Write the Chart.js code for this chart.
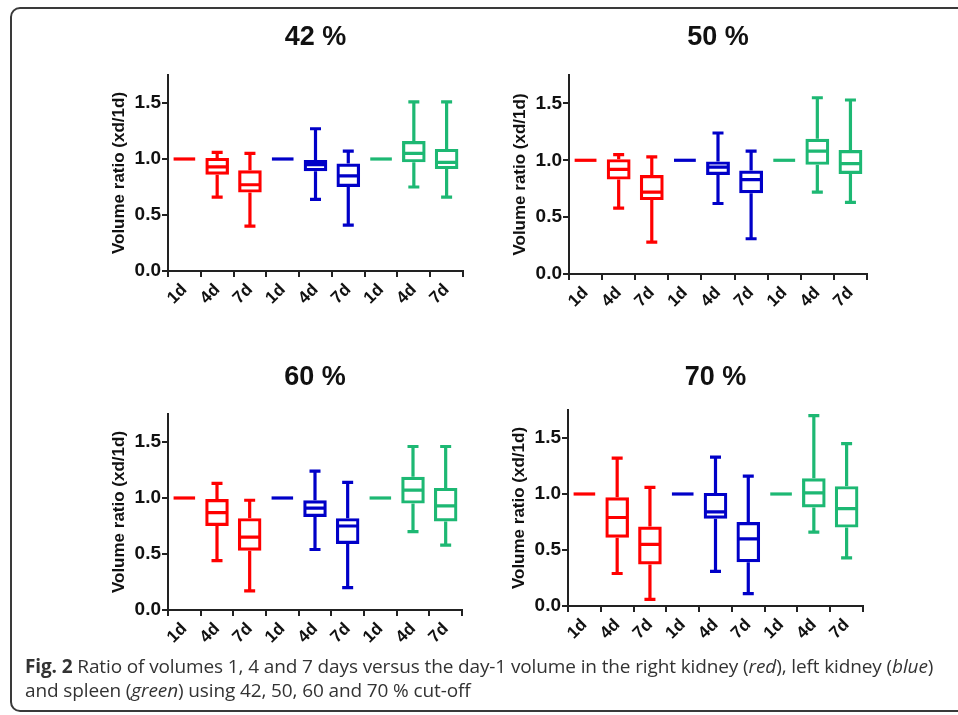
<!DOCTYPE html>
<html>
<head>
<meta charset="utf-8">
<script src="https://cdn.jsdelivr.net/npm/chart.js@4/dist/chart.umd.min.js"></script>
<style>
body{margin:0;background:#fff;width:958px;height:715px;overflow:hidden;position:relative}
.frame{position:absolute;left:10px;top:7px;width:1000px;height:705px;border:2px solid #3a3a3a;border-radius:10px;box-sizing:border-box}
canvas{position:absolute}
.caption{position:absolute;left:25px;top:654px;font-family:'Open Sans',sans-serif;font-size:19px;letter-spacing:-0.12px;color:#333;line-height:24px;white-space:nowrap}
</style>
</head>
<body>
<div class="frame"></div>
<canvas id="c42"></canvas>
<canvas id="c50"></canvas>
<canvas id="c60"></canvas>
<canvas id="c70"></canvas>
<div class="caption"><b>Fig. 2</b> Ratio of volumes 1, 4 and 7 days versus the day-1 volume in the right kidney (<i>red</i>), left kidney (<i>blue</i>)<br>and spleen (<i>green</i>) using 42, 50, 60 and 70 % cut-off</div>
<script>
const categories = ['1d', '4d', '7d', '1d', '4d', '7d', '1d', '4d', '7d'];
const yTicks = [0, 0.5, 1.0, 1.5];
const red = '#ff0000', blue = '#0000c8', green = '#1db873';
const organColors = [red, red, red, blue, blue, blue, green, green, green];

// 42 % cut-off
const min42 = [1, 0.66, 0.40, 1, 0.64, 0.41, 1, 0.75, 0.66];
const q1_42 = [1, 0.86, 0.70, 1, 0.89, 0.75, 1, 0.97, 0.91];
const med42 = [1, 0.93, 0.77, 1, 0.95, 0.85, 1, 1.05, 0.97];
const q3_42 = [1, 1.01, 0.90, 1, 0.99, 0.96, 1, 1.16, 1.09];
const max42 = [1, 1.06, 1.05, 1, 1.27, 1.07, 1, 1.51, 1.51];

// 50 % cut-off
const min50 = [1, 0.58, 0.28, 1, 0.62, 0.31, 1, 0.72, 0.63];
const q1_50 = [1, 0.83, 0.65, 1, 0.87, 0.71, 1, 0.96, 0.88];
const med50 = [1, 0.92, 0.72, 1, 0.94, 0.83, 1, 1.08, 0.97];
const q3_50 = [1, 1.01, 0.87, 1, 0.99, 0.91, 1, 1.19, 1.09];
const max50 = [1, 1.05, 1.03, 1, 1.24, 1.08, 1, 1.55, 1.53];

// 60 % cut-off
const min60 = [1, 0.44, 0.17, 1, 0.54, 0.20, 1, 0.70, 0.58];
const q1_60 = [1, 0.75, 0.53, 1, 0.83, 0.59, 1, 0.95, 0.79];
const med60 = [1, 0.87, 0.65, 1, 0.91, 0.75, 1, 1.07, 0.93];
const q3_60 = [1, 0.99, 0.82, 1, 0.98, 0.82, 1, 1.19, 1.09];
const max60 = [1, 1.13, 0.98, 1, 1.24, 1.14, 1, 1.46, 1.46];

// 70 % cut-off
const min70 = [1, 0.29, 0.06, 1, 0.31, 0.11, 1, 0.66, 0.43];
const q1_70 = [1, 0.61, 0.37, 1, 0.78, 0.39, 1, 0.88, 0.70];
const med70 = [1, 0.79, 0.55, 1, 0.84, 0.60, 1, 1.01, 0.87];
const q3_70 = [1, 0.97, 0.71, 1, 1.01, 0.75, 1, 1.14, 1.07];
const max70 = [1, 1.32, 1.06, 1, 1.33, 1.16, 1, 1.70, 1.45];

// whiskers, caps and medians on top of the floating-bar boxes
const whiskerPlugin = {
    id: 'whiskers',
    afterDatasetsDraw(chart) {
        const ctx = chart.ctx;
        const y = chart.scales.y;
        const ds = chart.data.datasets[0];
        const meta = chart.getDatasetMeta(0);
        meta.data.forEach((bar, i) => {
            const x = bar.x, half = bar.width / 2, cap = 5.5;
            const yMin = y.getPixelForValue(ds.mins[i]);
            const yMax = y.getPixelForValue(ds.maxs[i]);
            const yQ1 = y.getPixelForValue(ds.data[i][0]);
            const yQ3 = y.getPixelForValue(ds.data[i][1]);
            const yMed = y.getPixelForValue(ds.medians[i]);
            ctx.save();
            ctx.strokeStyle = organColors[i];
            ctx.lineWidth = 3.2;
            ctx.beginPath();
            if (ds.maxs[i] > ds.data[i][1]) {
                ctx.moveTo(x, yQ3); ctx.lineTo(x, yMax);
                ctx.moveTo(x - cap, yMax); ctx.lineTo(x + cap, yMax);
            }
            if (ds.mins[i] < ds.data[i][0]) {
                ctx.moveTo(x, yQ1); ctx.lineTo(x, yMin);
                ctx.moveTo(x - cap, yMin); ctx.lineTo(x + cap, yMin);
            }
            ctx.moveTo(x - half + 1, yMed); ctx.lineTo(x + half - 1, yMed);
            ctx.stroke();
            ctx.restore();
        });
    }
};

Chart.defaults.font.family = "'Liberation Sans', Arial, sans-serif";
Chart.defaults.color = '#111';

function makePanel(id, title, area, titleY, mins, q1s, meds, q3s, maxs) {
    const canvas = document.getElementById(id);
    const left = area[0] - 68, top = area[1] - 60;
    const width = area[2] + 12 - left, height = area[3] + 64 - top;
    canvas.style.left = left + 'px';
    canvas.style.top = top + 'px';
    canvas.width = width;
    canvas.height = height;
    const padTop = titleY - top - 16;

    new Chart(canvas.getContext('2d'), {
        type: 'bar',
        data: {
            labels: categories,
            datasets: [{
                data: q1s.map((v, i) => [v, q3s[i]]),
                mins: mins,
                medians: meds,
                maxs: maxs,
                backgroundColor: 'rgba(0,0,0,0)',
                borderColor: organColors,
                borderWidth: 3.2,
                borderSkipped: false,
                barPercentage: 0.72,
                categoryPercentage: 1
            }]
        },
        options: {
            responsive: false,
            animation: false,
            layout: { padding: { left: 0, right: 12, top: 0, bottom: 0 } },
            plugins: {
                legend: { display: false },
                tooltip: { enabled: false },
                title: {
                    display: true,
                    fullSize: false,
                    text: title,
                    color: '#111',
                    font: { size: 27, weight: 'bold' },
                    padding: { top: padTop, bottom: 60 - 32.4 - padTop }
                }
            },
            scales: {
                x: {
                    offset: true,
                    grid: { display: true, drawOnChartArea: false, tickLength: 6, color: '#222', lineWidth: 2 },
                    border: { display: true, color: '#222', width: 2 },
                    ticks: { color: '#111', font: { size: 17, weight: 'bold' }, maxRotation: 45, minRotation: 45, padding: 3 },
                    afterFit(scale) { scale.height = 64; }
                },
                y: {
                    min: 0,
                    max: 1.75,
                    grid: { display: true, drawOnChartArea: false, tickLength: 6, color: '#222', lineWidth: 2 },
                    border: { display: true, color: '#222', width: 2 },
                    ticks: {
                        color: '#111',
                        font: { size: 19, weight: 'bold' },
                        padding: 1,
                        callback: v => v.toFixed(1)
                    },
                    afterBuildTicks(scale) { scale.ticks = yTicks.map(v => ({ value: v })); },
                    title: {
                        display: true,
                        text: 'Volume ratio (xd/1d)',
                        color: '#111',
                        font: { size: 17, weight: 'bold' },
                        padding: { top: 9, bottom: 0 }
                    },
                    afterFit(scale) { scale.width = 68; }
                }
            }
        },
        plugins: [whiskerPlugin]
    });
}

makePanel('c42', '42 %', [168, 75, 463, 271], 37, min42, q1_42, med42, q3_42, max42);
makePanel('c50', '50 %', [569, 75, 867, 274], 37, min50, q1_50, med50, q3_50, max50);
makePanel('c60', '60 %', [168, 414, 462, 610], 377, min60, q1_60, med60, q3_60, max60);
makePanel('c70', '70 %', [568, 410, 863, 606], 377, min70, q1_70, med70, q3_70, max70);
</script>
</body>
</html>
